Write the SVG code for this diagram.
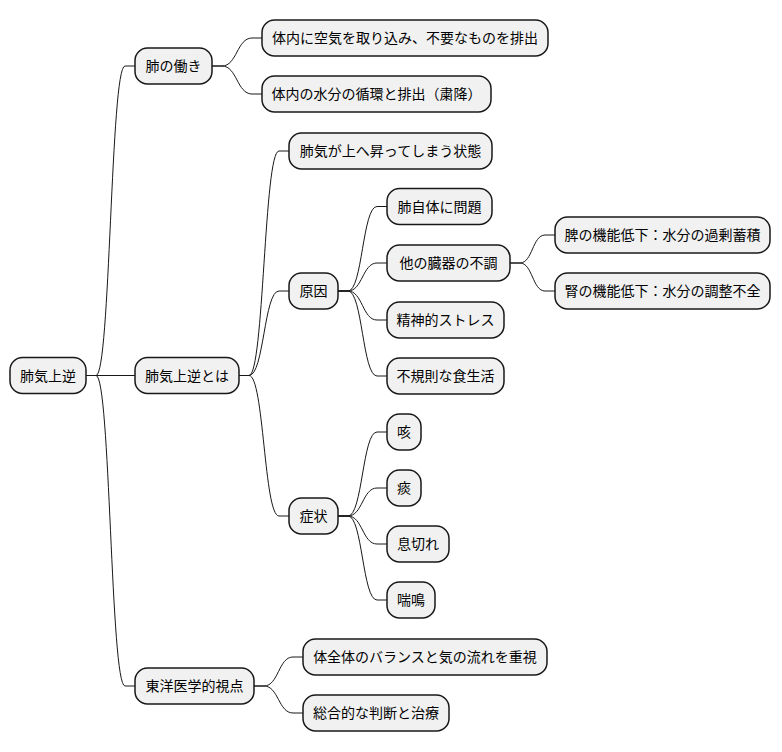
<svg xmlns="http://www.w3.org/2000/svg" width="782" height="752" viewBox="0 0 782 752">
<style>
.n rect{fill:#F1F1F1;stroke:#181818;stroke-width:1.5}
.n text{font-family:"Noto Sans CJK JP","Noto Sans",sans-serif;font-size:14px;fill:#000;text-anchor:middle}
.c path{fill:none;stroke:#181818;stroke-width:1}
</style>
<rect width="782" height="752" fill="#FFFFFF"/>
<g class="c">
<path d="M86 375.5 L96 375.5 C110.5 375.5 110.5 66 125 66 L135 66"/>
<path d="M86 375.5 L125 375.5 L135 375.5"/>
<path d="M86 375.5 L96 375.5 C110.5 375.5 110.5 686 125 686 L135 686"/>
<path d="M212 66 L222 66 C237 66 237 38 252 38 L262 38"/>
<path d="M212 66 L222 66 C237 66 237 94 252 94 L262 94"/>
<path d="M239 375.5 L249 375.5 C264 375.5 264 151 279 151 L289 151"/>
<path d="M239 375.5 L249 375.5 C264 375.5 264 291 279 291 L289 291"/>
<path d="M239 375.5 L249 375.5 C264 375.5 264 516 279 516 L289 516"/>
<path d="M338 291 L348 291 C362.5 291 362.5 206.5 377 206.5 L387 206.5"/>
<path d="M338 291 L348 291 C362.5 291 362.5 263 377 263 L387 263"/>
<path d="M338 291 L348 291 C362.5 291 362.5 320 377 320 L387 320"/>
<path d="M338 291 L348 291 C362.5 291 362.5 376 377 376 L387 376"/>
<path d="M510 263 L520 263 C532.5 263 532.5 235 545 235 L555 235"/>
<path d="M510 263 L520 263 C532.5 263 532.5 291 545 291 L555 291"/>
<path d="M338 516 L348 516 C362.5 516 362.5 432 377 432 L387 432"/>
<path d="M338 516 L348 516 C362.5 516 362.5 488 377 488 L387 488"/>
<path d="M338 516 L348 516 C362.5 516 362.5 544 377 544 L387 544"/>
<path d="M338 516 L348 516 C362.5 516 362.5 600 377 600 L387 600"/>
<path d="M254 686 L264 686 C278.5 686 278.5 657 293 657 L303 657"/>
<path d="M254 686 L264 686 C278.5 686 278.5 713 293 713 L303 713"/>
</g>
<g id="root" class="n"><rect x="10" y="357.5" width="76" height="36" rx="12.5"/><text x="48" y="380.5">肺気上逆</text></g>
<g id="n1" class="n"><rect x="135" y="48" width="77" height="36" rx="12.5"/><text x="173.5" y="71">肺の働き</text></g>
<g id="n1a" class="n"><rect x="262" y="20" width="286" height="36" rx="12.5"/><text x="405" y="43">体内に空気を取り込み、不要なものを排出</text></g>
<g id="n1b" class="n"><rect x="262" y="76" width="229" height="36" rx="12.5"/><text x="376.5" y="99">体内の水分の循環と排出（粛降）</text></g>
<g id="n2" class="n"><rect x="135" y="357.5" width="104" height="36" rx="12.5"/><text x="187" y="380.5">肺気上逆とは</text></g>
<g id="n2a" class="n"><rect x="289" y="133" width="203" height="36" rx="12.5"/><text x="390.5" y="156">肺気が上へ昇ってしまう状態</text></g>
<g id="n2b" class="n"><rect x="289" y="273" width="49" height="36" rx="12.5"/><text x="313.5" y="296">原因</text></g>
<g id="n2b1" class="n"><rect x="387" y="188.5" width="105" height="36" rx="12.5"/><text x="439.5" y="211.5">肺自体に問題</text></g>
<g id="n2b2" class="n"><rect x="387" y="245" width="123" height="36" rx="12.5"/><text x="448.5" y="268">他の臓器の不調</text></g>
<g id="n2b2a" class="n"><rect x="555" y="217" width="215" height="36" rx="12.5"/><text x="662.5" y="240">脾の機能低下：水分の過剰蓄積</text></g>
<g id="n2b2b" class="n"><rect x="555" y="273" width="215" height="36" rx="12.5"/><text x="662.5" y="296">腎の機能低下：水分の調整不全</text></g>
<g id="n2b3" class="n"><rect x="387" y="302" width="117" height="36" rx="12.5"/><text x="445.5" y="325">精神的ストレス</text></g>
<g id="n2b4" class="n"><rect x="387" y="358" width="117" height="36" rx="12.5"/><text x="445.5" y="381">不規則な食生活</text></g>
<g id="n2c" class="n"><rect x="289" y="498" width="49" height="36" rx="12.5"/><text x="313.5" y="521">症状</text></g>
<g id="n2c1" class="n"><rect x="387" y="414" width="34" height="36" rx="12.5"/><text x="404" y="437">咳</text></g>
<g id="n2c2" class="n"><rect x="387" y="470" width="34" height="36" rx="12.5"/><text x="404" y="493">痰</text></g>
<g id="n2c3" class="n"><rect x="387" y="526" width="62" height="36" rx="12.5"/><text x="418" y="549">息切れ</text></g>
<g id="n2c4" class="n"><rect x="387" y="582" width="48" height="36" rx="12.5"/><text x="411" y="605">喘鳴</text></g>
<g id="n3" class="n"><rect x="135" y="668" width="119" height="36" rx="12.5"/><text x="194.5" y="691">東洋医学的視点</text></g>
<g id="n3a" class="n"><rect x="303" y="639" width="244" height="36" rx="12.5"/><text x="425" y="662">体全体のバランスと気の流れを重視</text></g>
<g id="n3b" class="n"><rect x="303" y="695" width="146" height="36" rx="12.5"/><text x="376" y="718">総合的な判断と治療</text></g>
</svg>
